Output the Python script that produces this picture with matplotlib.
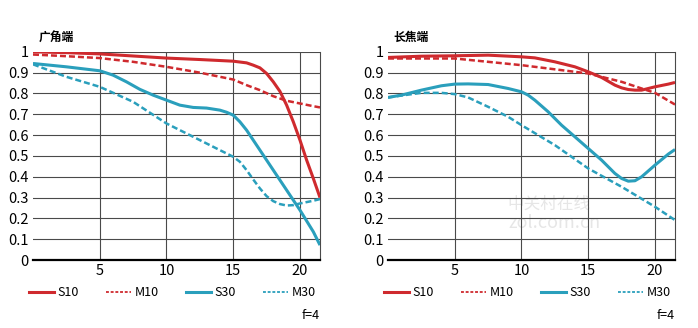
import matplotlib
matplotlib.use("Agg")
import matplotlib.pyplot as plt
from matplotlib.lines import Line2D

plt.rcParams['font.family'] = ['Noto Sans CJK SC', 'DejaVu Sans']

# wide end (广角端)
wide_s10_x = [0, 2.5, 5, 7.5, 10, 12.5, 15, 16, 16.5, 17, 17.5, 18, 18.5, 19, 19.5, 20, 20.5, 21, 21.5]
wide_s10_y = [1.0, 0.996, 0.99, 0.98, 0.97, 0.963, 0.955, 0.947, 0.936, 0.923, 0.896, 0.856,
              0.81, 0.744, 0.664, 0.576, 0.48, 0.392, 0.30]
wide_m10_x = [0, 2.5, 5, 7.5, 10, 12.5, 15, 16, 17, 18, 19, 20, 21, 21.5]
wide_m10_y = [0.987, 0.979, 0.97, 0.952, 0.928, 0.90, 0.867, 0.84, 0.816, 0.787, 0.765, 0.752, 0.739, 0.733]
wide_s30_x = [0, 2.5, 5, 6, 7, 8, 9, 10, 11, 12, 13, 14, 14.5, 15, 15.5, 16, 17, 18, 19, 20, 21, 21.5]
wide_s30_y = [0.944, 0.928, 0.909, 0.888, 0.856, 0.82, 0.792, 0.768, 0.744, 0.733, 0.73, 0.72,
              0.71, 0.696, 0.664, 0.624, 0.528, 0.432, 0.336, 0.24, 0.136, 0.072]
wide_m30_x = [0, 2.5, 5, 7.5, 10, 12.5, 15, 15.5, 16, 16.5, 17, 17.5, 18, 18.5, 19, 19.5, 20, 21, 21.5]
wide_m30_y = [0.94, 0.88, 0.832, 0.76, 0.656, 0.576, 0.496, 0.472, 0.432, 0.387, 0.344, 0.307,
              0.283, 0.269, 0.262, 0.264, 0.272, 0.285, 0.293]

# tele end (长焦端)
tele_s10_x = [0, 2.5, 5, 7.5, 10, 11, 12.5, 14, 15, 16, 17, 17.5, 18, 18.5, 19, 20, 21, 21.5]
tele_s10_y = [0.973, 0.979, 0.981, 0.984, 0.976, 0.971, 0.952, 0.928, 0.904, 0.877, 0.84, 0.827,
              0.819, 0.816, 0.816, 0.832, 0.845, 0.853]
tele_m10_x = [0, 5, 10, 15, 17.5, 19, 20, 21.5]
tele_m10_y = [0.968, 0.968, 0.936, 0.896, 0.856, 0.824, 0.803, 0.747]
tele_s30_x = [0, 1, 2.5, 4, 5, 6, 7.5, 9, 10, 10.5, 11, 12, 13, 14, 15, 16, 17, 17.5, 18, 18.5,
              19, 20, 21, 21.5]
tele_s30_y = [0.781, 0.792, 0.816, 0.837, 0.845, 0.846, 0.843, 0.824, 0.808, 0.792, 0.768, 0.712,
              0.648, 0.592, 0.536, 0.48, 0.416, 0.392, 0.379, 0.381, 0.40, 0.456, 0.509, 0.531]
tele_m30_x = [0, 1, 2.5, 4, 5, 6, 7.5, 9, 10, 12.5, 15, 17.5, 20, 21.5]
tele_m30_y = [0.781, 0.79, 0.803, 0.803, 0.797, 0.781, 0.736, 0.688, 0.648, 0.552, 0.44, 0.352,
              0.256, 0.192]

titles = ["广角端", "长焦端"]
labels = ["S10", "M10", "S30", "M30"]
xticks = [5, 10, 15, 20]
yticks = [0, 0.1, 0.2, 0.3, 0.4, 0.5, 0.6, 0.7, 0.8, 0.9, 1]
ytick_labels = ["0", "0.1", "0.2", "0.3", "0.4", "0.5", "0.6", "0.7", "0.8", "0.9", "1"]

RED = '#cf2a2e'
TEAL = '#2a9fbc'
DASH = (0, (2.4, 1.2))

fig = plt.figure(figsize=(6.98, 3.28), dpi=100)
ax_l = fig.add_axes([33 / 698, 0.207, 287 / 698, 0.635])
ax_r = fig.add_axes([388 / 698, 0.207, 287 / 698, 0.635])

panels = [
    (ax_l, [(wide_s10_x, wide_s10_y), (wide_m10_x, wide_m10_y),
            (wide_s30_x, wide_s30_y), (wide_m30_x, wide_m30_y)]),
    (ax_r, [(tele_s10_x, tele_s10_y), (tele_m10_x, tele_m10_y),
            (tele_s30_x, tele_s30_y), (tele_m30_x, tele_m30_y)]),
]
styles = [(RED, '-', 2.2), (RED, DASH, 1.8), (TEAL, '-', 2.2), (TEAL, DASH, 1.8)]

for i, (ax, series) in enumerate(panels):
    for (xs, ys), (c, ls, lw) in zip(series, styles):
        ax.plot(xs, ys, color=c, linestyle=ls, linewidth=lw, solid_capstyle='butt',
                solid_joinstyle='round', zorder=3)
    ax.set_xlim(0, 21.5)
    ax.set_ylim(0, 1)
    ax.set_xticks(xticks)
    ax.set_xticklabels([str(t) for t in xticks], fontsize=10.5, fontweight='medium')
    ax.set_yticks(yticks)
    ax.set_yticklabels(ytick_labels, fontsize=10.5, fontweight='medium')
    ax.tick_params(length=0, pad=3)
    ax.tick_params(axis='x', pad=3)
    ax.grid(True, color='#4a4a4a', linewidth=0.8)
    for s in ['top', 'left']:
        ax.spines[s].set_visible(False)
    ax.spines['right'].set_color('#4a4a4a')
    ax.spines['right'].set_linewidth(0.8)
    ax.spines['bottom'].set_linewidth(1.6)
    ax.spines['bottom'].set_zorder(4)
    ax.text(0.02, 1.07, titles[i], transform=ax.transAxes, fontsize=8.5,
            fontweight='bold', va='center', ha='left')
    ax.text(1.0, -0.265, "f=4", transform=ax.transAxes, fontsize=9,
            ha='right', va='center')
    handles = [Line2D([], [], color=c, linewidth=lw if ls == '-' else 1.3,
                      linestyle='-' if ls == '-' else (0, (1.6, 1.0)))
               for c, ls, lw in styles]
    ax.legend(handles, labels, ncol=4, loc='center left',
              bbox_to_anchor=(-0.03, -0.155), frameon=False, fontsize=9,
              handlelength=2.0, handletextpad=0.25, columnspacing=2.2,
              borderaxespad=0)

ax_r.text(0.56, 0.27, "中关村在线", transform=ax_r.transAxes, fontsize=12,
          color='#e6e6e6', ha='center', va='center', zorder=1)
ax_r.text(0.58, 0.18, "zol.com.cn", transform=ax_r.transAxes, fontsize=13,
          color='#e6e6e6', ha='center', va='center', zorder=1)

fig.savefig("out.png", dpi=100)
